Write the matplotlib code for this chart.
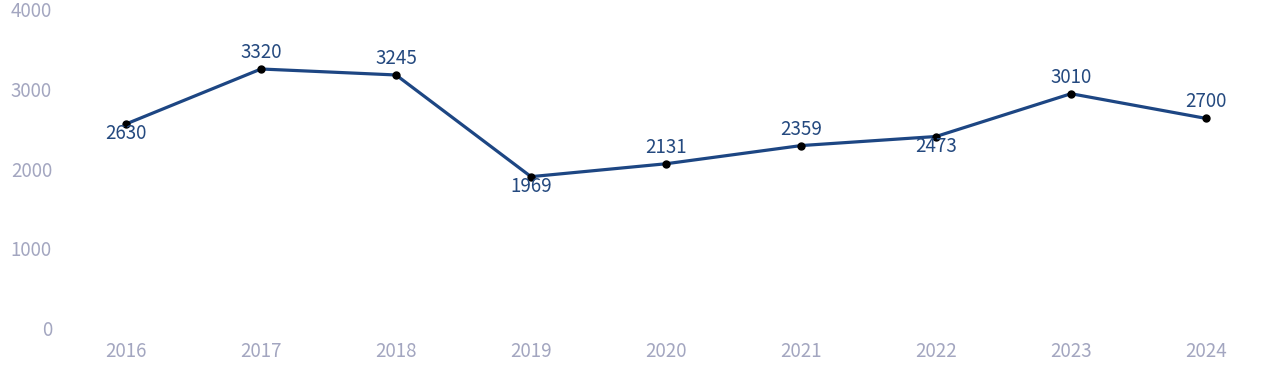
import matplotlib
matplotlib.use("Agg")
import matplotlib.pyplot as plt
from matplotlib.transforms import ScaledTranslation

plt.rcParams['font.family'] = ['Noto Sans CJK SC', 'DejaVu Sans']

years = [2016, 2017, 2018, 2019, 2020, 2021, 2022, 2023, 2024]
values = [2630, 3320, 3245, 1969, 2131, 2359, 2473, 3010, 2700]
# label placement: True = below the point
below = [True, False, False, True, False, False, True, False, False]
yticks = [0, 1000, 2000, 3000, 4000]

line_color = "#1d4683"
label_color = "#24497f"
tick_color = "#a3a6c0"

fig = plt.figure(figsize=(12.8, 3.82), dpi=100)
ax = fig.add_axes([58.5 / 1280, 1 - 333.6 / 382, (1273.5 - 58.5) / 1280, (333.6 - 14.8) / 382])

ax.plot(years, values, color=line_color, lw=2.3, zorder=2)
ax.plot(years, values, 'o', color="black", ms=5, zorder=3)

for x, v, b in zip(years, values, below):
    dy = -7.2 if b else 11.9
    ax.annotate(str(v), (x, v), xytext=(0, dy), textcoords="offset points",
                ha="center", va="center", fontsize=13.5, color=label_color)

ax.set_xlim(2015.5, 2024.5)
ax.set_ylim(0, 4000)
ax.set_xticks(years)
ax.set_xticklabels([str(y) for y in years])
ax.set_yticks(yticks)
ax.set_yticklabels([str(t) for t in yticks])
ax.tick_params(axis="both", length=0, labelsize=13.5, labelcolor=tick_color)
ax.tick_params(axis="x", pad=5.3)
ax.tick_params(axis="y", pad=4.7)
for lbl in ax.get_yticklabels():
    lbl.set_transform(lbl.get_transform() + ScaledTranslation(0, 5.5 / 100, fig.dpi_scale_trans))

for s in ax.spines.values():
    s.set_visible(False)

fig.savefig("out.png", dpi=100)
